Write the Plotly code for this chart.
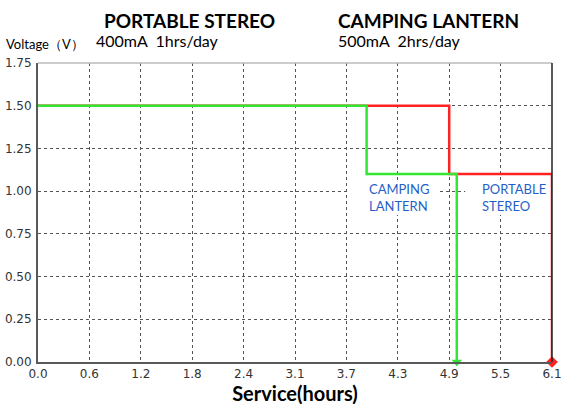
import plotly.graph_objects as go

# tick labels (x axis is 0..6.1 split into 10 equal steps)
x_ticks = [0.0, 0.61, 1.22, 1.83, 2.44, 3.05, 3.66, 4.27, 4.88, 5.49, 6.1]
x_tick_labels = ["0.0", "0.6", "1.2", "1.8", "2.4", "3.1", "3.7", "4.3", "4.9", "5.5", "6.1"]
y_ticks = [0.0, 0.25, 0.5, 0.75, 1.0, 1.25, 1.5, 1.75]
y_tick_labels = ["0.00", "0.25", "0.50", "0.75", "1.00", "1.25", "1.50", "1.75"]

# step curves (hours, volts)
stereo_hours = [0.0, 4.88, 4.88, 6.1, 6.1]
stereo_volts = [1.5, 1.5, 1.1, 1.1, 0.0]
lantern_hours = [0.0, 3.9, 3.9, 4.97, 4.97]
lantern_volts = [1.5, 1.5, 1.1, 1.1, 0.0]

RED = "#FF2222"
GREEN = "#33E633"
BLUE = "#1F5FC8"
FONT = "Lato, 'Noto Sans', sans-serif"
TICKFONT = "'DejaVu Sans', Verdana, sans-serif"

W, H = 565, 414
ML, MR, MT, MB = 38, 13, 63, 52
pw, ph = W - ML - MR, H - MT - MB


def px_to_paper(px, py):
    return (px - ML) / pw, 1 + (MT - py) / ph


fig = go.Figure()

# white boxes behind the in-plot labels (hide the gridlines, like the original)
for x0, x1 in [(3.68, 4.735), (5.07, 6.1)]:
    fig.add_shape(type="rect", xref="x", yref="y", x0=x0, x1=x1, y0=0.86, y1=1.054,
                  fillcolor="white", line=dict(width=0), layer="between")

fig.add_trace(go.Scatter(
    x=stereo_hours, y=stereo_volts, mode="lines",
    line=dict(color=RED, width=2.5), showlegend=False, cliponaxis=False,
))
fig.add_trace(go.Scatter(
    x=[stereo_hours[-1]], y=[stereo_volts[-1]], mode="markers",
    marker=dict(symbol="diamond", color=RED, size=9), showlegend=False, cliponaxis=False,
))
fig.add_trace(go.Scatter(
    x=lantern_hours, y=lantern_volts, mode="lines",
    line=dict(color=GREEN, width=2.5), showlegend=False, cliponaxis=False,
))
fig.add_trace(go.Scatter(
    x=[lantern_hours[-1]], y=[lantern_volts[-1]], mode="markers",
    marker=dict(symbol="triangle-down", color=GREEN, size=9), showlegend=False, cliponaxis=False,
))

# labels inside the plot
for lx, txt in [(3.9, "CAMPING<br>LANTERN"), (5.24, "PORTABLE<br>STEREO")]:
    fig.add_annotation(x=lx, y=0.96, xref="x", yref="y", text=txt, align="left",
                       showarrow=False, xanchor="left", yanchor="middle",
                       font=dict(family=FONT, size=13, color=BLUE))

# header texts (positions given in pixels)
headers = [
    (102, 20, "<b>PORTABLE STEREO</b>", 19),
    (94, 40, "400mA  1hrs/day", 16),
    (336, 20, "<b>CAMPING LANTERN</b>", 19),
    (336, 40, "500mA  2hrs/day", 16),
    (4, 44, "Voltage（V）", 13),
]
for hx, hy, txt, size in headers:
    ax, ay = px_to_paper(hx, hy)
    fig.add_annotation(x=ax, y=ay, xref="paper", yref="paper", text=txt, showarrow=False,
                       xanchor="left", yanchor="middle",
                       font=dict(family=FONT, size=size, color="black"))

# top and right frame lines
fig.add_shape(type="line", xref="paper", yref="paper", x0=0, x1=1, y0=1, y1=1,
              line=dict(color="#BBBBBB", width=1.5))
fig.add_shape(type="line", xref="paper", yref="paper", x0=1, x1=1, y0=0, y1=1,
              line=dict(color="#222222", width=1.5))

fig.update_layout(
    width=W, height=H,
    margin=dict(l=ML, r=MR, t=MT, b=MB, autoexpand=False),
    paper_bgcolor="white", plot_bgcolor="white",
    font=dict(family=FONT, size=13, color="#333333"),
    xaxis=dict(
        range=[0, 6.1], tickmode="array", tickvals=x_ticks, ticktext=x_tick_labels,
        showgrid=True, gridcolor="#555555", griddash="dot", gridwidth=1,
        showline=True, linecolor="#595959", linewidth=2, ticks="", zeroline=False,
        automargin=False,
        title=dict(text="<b>Service(hours)</b>", font=dict(family=FONT, size=20, color="black"),
                   standoff=6),
        tickfont=dict(family=TICKFONT, size=12, color="#333333"),
    ),
    yaxis=dict(
        range=[0, 1.75], tickmode="array", tickvals=y_ticks, ticktext=y_tick_labels,
        showgrid=True, gridcolor="#555555", griddash="dot", gridwidth=1,
        showline=True, linecolor="#595959", linewidth=2, ticks="", zeroline=False,
        automargin=False,
        tickfont=dict(family=TICKFONT, size=12, color="#333333"), ticklabelstandoff=2,
    ),
)

# drop the browser's default 8px body margin so the figure sits at the page corner
fig.write_html("out.html", config={"displayModeBar": False},
               post_script="document.body.style.margin = '0';")
